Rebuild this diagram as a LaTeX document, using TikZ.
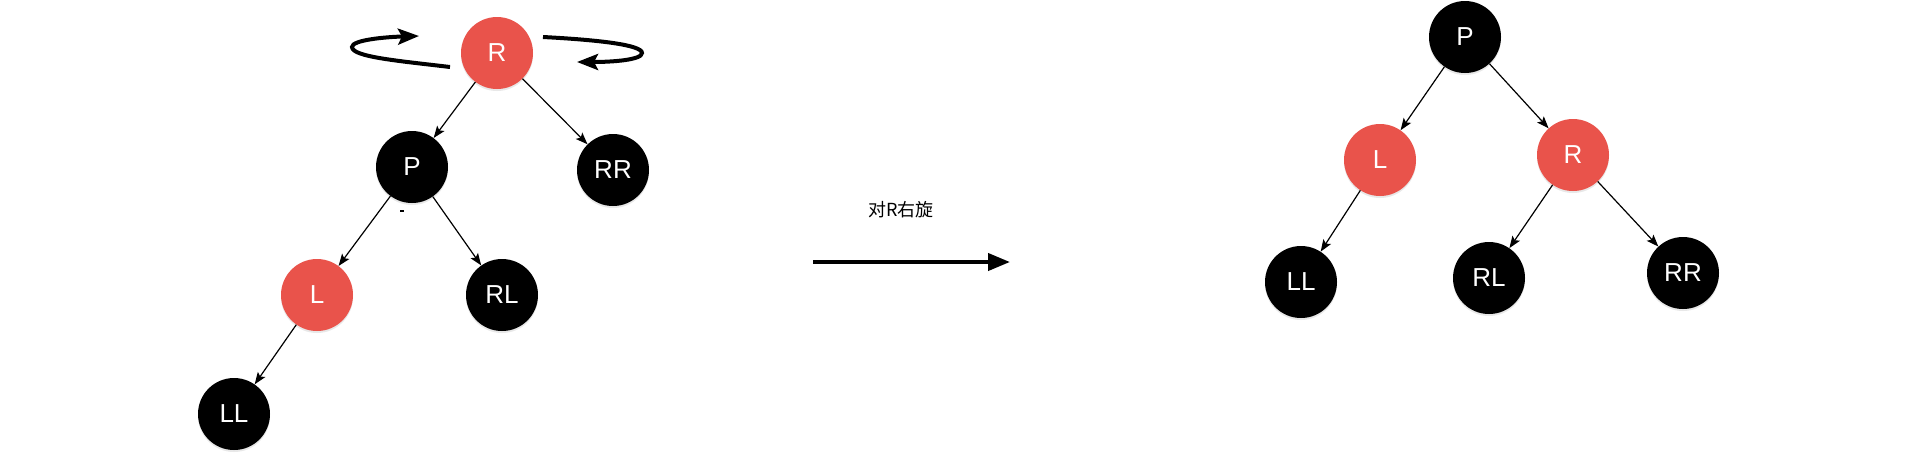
\documentclass[tikz,border=0pt]{standalone}
\usepackage{fontspec}
\setmainfont{Liberation Sans}
\newfontfamily\cjk{Noto Sans CJK SC}
\usetikzlibrary{arrows.meta,shadows}
\definecolor{nodered}{RGB}{233,83,75}
\begin{document}
\begin{tikzpicture}[x=1pt,y=-1pt,
  rbnode/.style={circle, minimum size=72pt, inner sep=0pt, text=white,
    font=\fontsize{26}{26}\selectfont,
    drop shadow={shadow xshift=0pt, shadow yshift=-2pt, opacity=0.18}},
  rednode/.style={rbnode, fill=nodered},
  blacknode/.style={rbnode, fill=black},
  treeedge/.style={line width=1.2pt, -{Stealth[length=12pt,width=9pt,inset=2.5pt]}},
  rotarrow/.style={line width=4pt, -{Stealth[length=21pt,width=16pt,inset=4pt]}},
  bigarrow/.style={line width=4pt, -{Triangle[length=22pt,width=17pt]}},
  caption/.style={font=\cjk\fontsize{18}{18}\selectfont, text=black}
]
\useasboundingbox (0,0) rectangle (1920,459);
\fill[white] (0,0) rectangle (1920,459);

% left tree
\node[rednode]   (lR)  at (497,53)  {R};
\node[blacknode] (lP)  at (412,167) {P};
\node[blacknode] (lRR) at (613,170) {RR};
\node[rednode]   (lL)  at (317,295) {L};
\node[blacknode] (lRL) at (502,295) {RL};
\node[blacknode] (lLL) at (234,414) {LL};

\draw[treeedge] (lR) -- (lP);
\draw[treeedge] (lR) -- (lRR);
\draw[treeedge] (lP) -- (lL);
\draw[treeedge] (lP) -- (lRL);
\draw[treeedge] (lL) -- (lLL);

\fill[black] (400,209.8) rectangle (403.5,211.8);

% rotation arrows
\draw[rotarrow] (450,67) .. controls (400,61) and (352,57) .. (352,47)
  .. controls (352,40) and (385,37) .. (419,36);
\draw[rotarrow] (543,37) .. controls (600,40) and (642,45) .. (642,53)
  .. controls (642,60) and (612,62) .. (577,62);

% middle arrow
\coordinate (aS) at (813,262);
\coordinate (aE) at (1010,262);
\draw[bigarrow] (aS) -- (aE);
\node[caption] (cap) at (901,210) {对R右旋};

% right tree
\node[blacknode] (rP)  at (1465,37)  {P};
\node[rednode]   (rL)  at (1380,160) {L};
\node[rednode]   (rR)  at (1573,155) {R};
\node[blacknode] (rLL) at (1301,282) {LL};
\node[blacknode] (rRL) at (1489,278) {RL};
\node[blacknode] (rRR) at (1683,273) {RR};

\draw[treeedge] (rP) -- (rL);
\draw[treeedge] (rP) -- (rR);
\draw[treeedge] (rL) -- (rLL);
\draw[treeedge] (rR) -- (rRL);
\draw[treeedge] (rR) -- (rRR);
\end{tikzpicture}
\end{document}
